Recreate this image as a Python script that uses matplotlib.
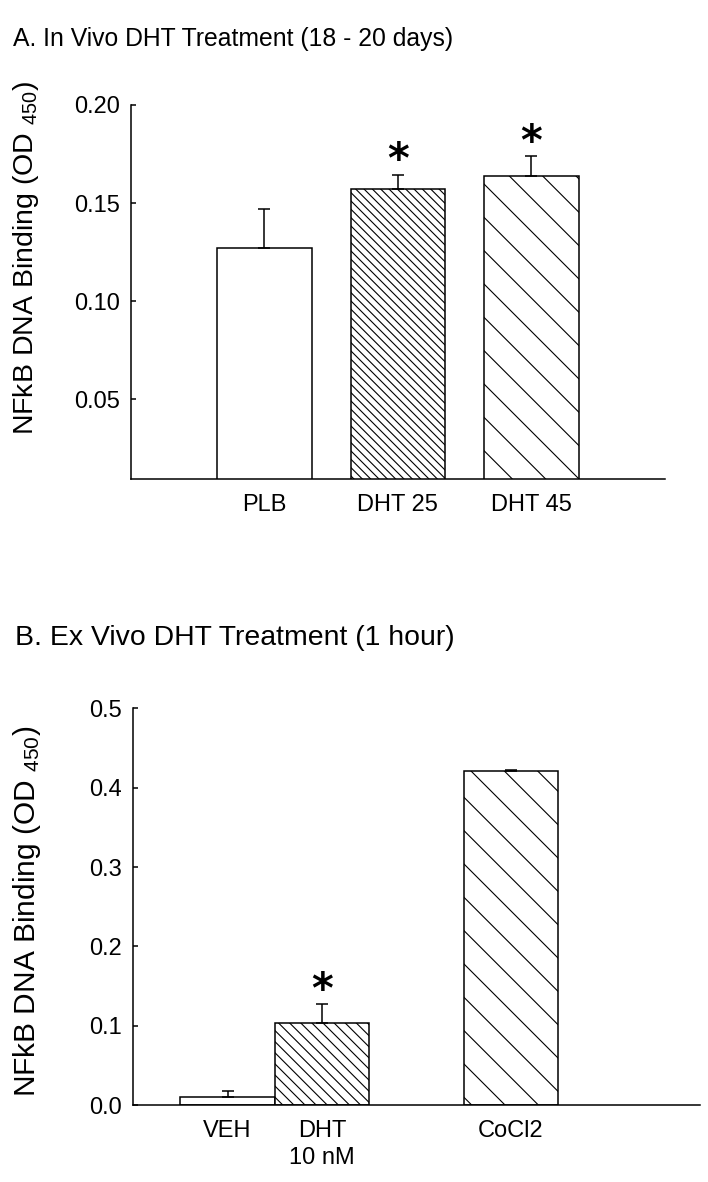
import matplotlib
matplotlib.use("Agg")
import matplotlib.pyplot as plt
from matplotlib import font_manager

plt.rcParams['font.family'] = 'Liberation Sans'
plt.rcParams['mathtext.fontset'] = 'custom'
plt.rcParams['mathtext.rm'] = 'Liberation Sans'
plt.rcParams['hatch.linewidth'] = 0.8
plt.rcParams['hatch.color'] = 'black'

# panel A data
labels_a = ['PLB', 'DHT 25', 'DHT 45']
vals_a = [0.127, 0.157, 0.164]
errs_a = [0.020, 0.0075, 0.010]
hatch_a = ['', '\\\\\\\\', '\\']
star_a = [False, True, True]

# panel B data
labels_b = ['VEH', 'DHT\n10 nM', 'CoCl2']
vals_b = [0.010, 0.103, 0.421]
errs_b = [0.008, 0.024, 0.002]
hatch_b = ['', '\\\\\\', '\\']
star_b = [False, True, False]

ylab = r'NFkB DNA Binding (OD $\mathregular{_{450}}$)'

fig = plt.figure(figsize=(7.08, 11.82), dpi=100)

narrow = [f.name for f in font_manager.fontManager.ttflist if 'Narrow' in f.name]
title_fam = 'Liberation Sans Narrow' if 'Liberation Sans Narrow' in narrow else 'Liberation Sans'
title_size = 21.5 if title_fam == 'Liberation Sans Narrow' else 17.8


def draw(ax, pos, vals, errs, hatches, stars, labels, bw):
    bars = ax.bar(pos, vals, bw, color='white', edgecolor='black', linewidth=1.1, zorder=2)
    for b, h in zip(bars, hatches):
        b.set_hatch(h)
    ax.errorbar(pos, vals, yerr=[[0] * len(errs), errs], fmt='none', ecolor='black',
                elinewidth=1.1, capsize=4.2, capthick=1.1, zorder=3)
    for p, v, e, s in zip(pos, vals, errs, stars):
        if s:
            ax.annotate('*', (p, v + e), xytext=(0, 1), textcoords='offset points',
                        ha='center', va='baseline', fontsize=30, fontweight='bold',
                        family='DejaVu Sans')
    ax.spines['top'].set_visible(False)
    ax.spines['right'].set_visible(False)
    for s in ['left', 'bottom']:
        ax.spines[s].set_linewidth(1.1)
    ax.tick_params(axis='y', direction='in', length=3.6, width=1.1, labelsize=17, pad=8)
    ax.tick_params(axis='x', length=0, labelsize=17, pad=11)
    ax.set_xticks(pos)
    ax.set_xticklabels(labels, linespacing=1.25)


ax1 = fig.add_axes([0.185, 0.5948, 0.754, 0.3164])
draw(ax1, [1, 2, 3], vals_a, errs_a, hatch_a, star_a, labels_a, 0.71)
ax1.set_xlim(0, 4)
ax1.set_ylim(0.0095, 0.20)
ax1.set_yticks([0.05, 0.10, 0.15, 0.20])
ax1.set_yticklabels(['0.05', '0.10', '0.15', '0.20'])

ax2 = fig.add_axes([0.1879, 0.0651, 0.8008, 0.3355])
draw(ax2, [1, 2, 4], vals_b, errs_b, hatch_b, star_b, labels_b, 1.0)
ax2.set_xlim(0, 6)
ax2.set_ylim(0, 0.5)
ax2.set_yticks([0.0, 0.1, 0.2, 0.3, 0.4, 0.5])
ax2.set_yticklabels(['0.0', '0.1', '0.2', '0.3', '0.4', '0.5'])

fig.text(13 / 708, 1 - 46 / 1182, 'A. In Vivo DHT Treatment (18 - 20 days)',
         fontsize=title_size, family=title_fam, va='baseline', ha='left')
fig.text(15 / 708, 1 - 645 / 1182, 'B. Ex Vivo DHT Treatment (1 hour)',
         fontsize=20.4, va='baseline', ha='left')

fig.text(26 / 708, 0.782, ylab, rotation=90, fontsize=20.5, ha='center', va='center')
fig.text(27 / 708, 0.229, ylab, rotation=90, fontsize=21.5, ha='center', va='center')

fig.savefig('out.png', dpi=100)
